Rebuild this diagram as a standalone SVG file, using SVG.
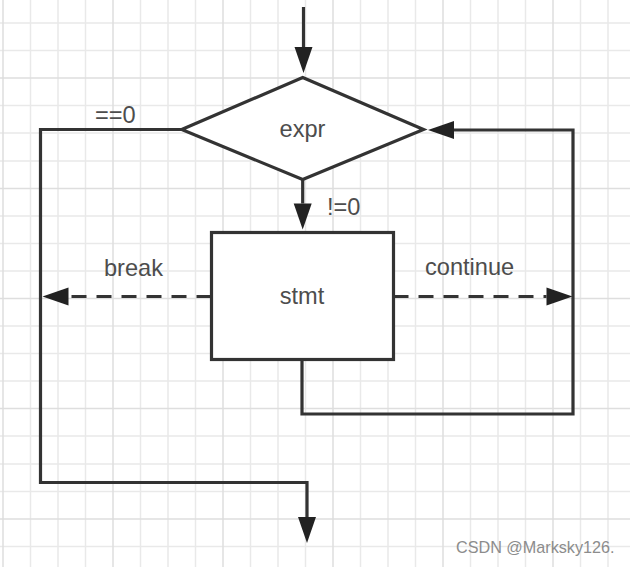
<svg xmlns="http://www.w3.org/2000/svg" width="630" height="567" viewBox="0 0 630 567">
  <style>
    .minor { stroke: #e9e9e9; stroke-width: 1.5; fill: none; }
    .major { stroke: #dedede; stroke-width: 1.5; fill: none; }
    .shape { fill: #ffffff; stroke: #333333; stroke-width: 3.2; }
    .edge { fill: none; stroke: #333333; stroke-width: 3.2; }
    .dash { stroke-dasharray: 15 10; }
    .lbl { font-family: "Liberation Sans", Arial, Helvetica, sans-serif; font-size: 23.6px; fill: #4d4d4d; }
    .wm { font-family: "Liberation Sans", Arial, Helvetica, sans-serif; font-size: 16.2px; fill: #8c8c8c; }
  </style>
  <defs>
    <marker id="arrow" markerUnits="userSpaceOnUse" markerWidth="26" markerHeight="18" refX="0" refY="9" orient="auto" overflow="visible">
      <path d="M0,0 L26,9 L0,18 Z" fill="#222222"/>
    </marker>
  </defs>
  <rect x="0" y="0" width="630" height="567" fill="#ffffff"/>
  <g id="grid">
    <path class="minor" d="M30.5,0V567M58,0V567M85.5,0V567M140.5,0V567M168,0V567M195.5,0V567M250.5,0V567M278,0V567M305.5,0V567M360.5,0V567M388,0V567M415.5,0V567M470.5,0V567M498,0V567M525.5,0V567M580.5,0V567M608,0V567"/>
    <path class="minor" d="M0,23H630M0,50.5H630M0,105.5H630M0,133H630M0,161H630M0,216H630M0,243.5H630M0,271H630M0,326H630M0,353.5H630M0,381H630M0,436H630M0,464H630M0,491.5H630M0,546.5H630"/>
    <path class="major" d="M3,0V567M113,0V567M223,0V567M333,0V567M443,0V567M553,0V567M0,78H630M0,188.5H630M0,298.5H630M0,408.5H630M0,519H630"/>
  </g>
  <g id="connectors">
    <path id="entry" class="edge" d="M303.5,7V47" marker-end="url(#arrow)"/>
    <path id="exit-false" class="edge" d="M181.5,129.5H40.5V482.5H307V517" marker-end="url(#arrow)"/>
    <path id="to-stmt" class="edge" d="M302.7,179.5V203.5" marker-end="url(#arrow)"/>
    <path id="loop-back" class="edge" d="M302,359.5V414H573V130H454" marker-end="url(#arrow)"/>
    <path id="break-edge" class="edge dash" d="M211.5,296.5H68.5" marker-end="url(#arrow)"/>
    <path id="continue-edge" class="edge dash" d="M393.5,296.5H546.5" marker-end="url(#arrow)"/>
    <text class="lbl" x="95" y="123">==0</text>
    <text class="lbl" x="327" y="215">!=0</text>
    <text class="lbl" x="104" y="276">break</text>
    <text class="lbl" x="425" y="275">continue</text>
  </g>
  <g id="expr">
    <polygon class="shape" points="302.7,77.5 423.5,129.5 302.7,179.5 181.7,129.5"/>
    <text class="lbl" x="302.5" y="136.5" text-anchor="middle">expr</text>
  </g>
  <g id="stmt">
    <rect class="shape" x="211.5" y="232.5" width="182" height="127"/>
    <text class="lbl" x="302" y="304" text-anchor="middle">stmt</text>
  </g>
  <text class="wm" x="456" y="553">CSDN @Marksky126.</text>
</svg>
